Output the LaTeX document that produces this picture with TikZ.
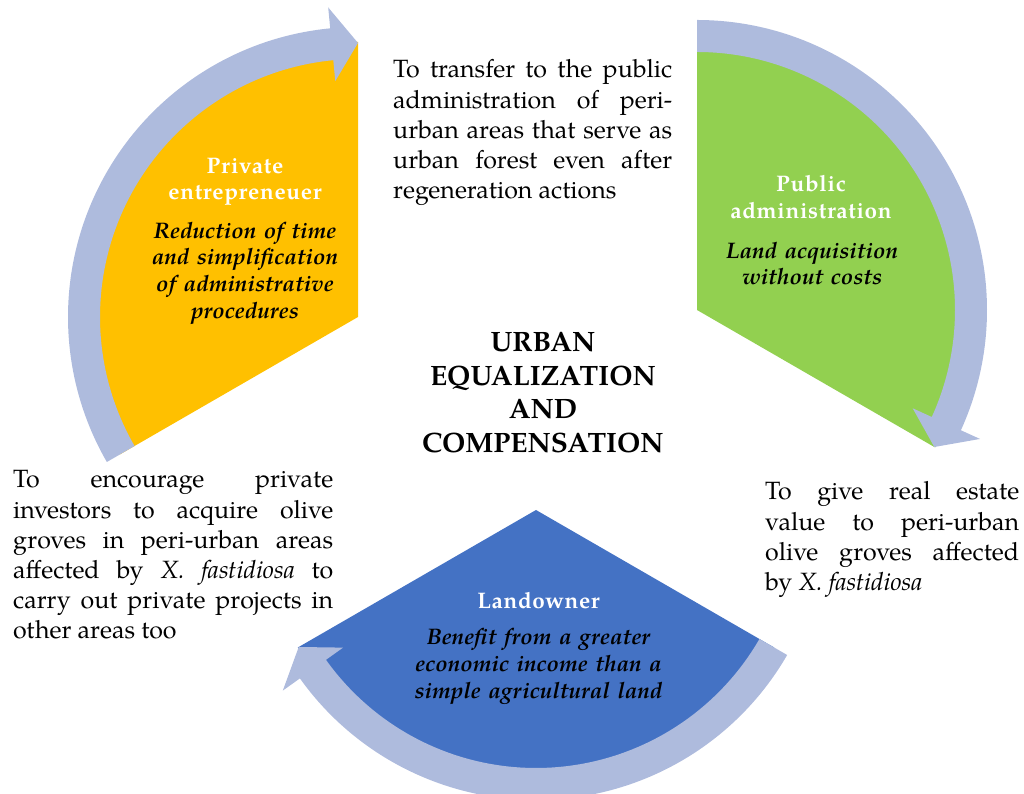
\documentclass[tikz,border=0pt]{standalone}
\usepackage{fontspec}
\setmainfont{texgyrepagella}[Extension=.otf, UprightFont=*-regular, BoldFont=*-bold, ItalicFont=*-italic, BoldItalicFont=*-bolditalic]
\definecolor{wyellow}{HTML}{FFC000}
\definecolor{wgreen}{HTML}{92D050}
\definecolor{wblue}{HTML}{4472C4}
\definecolor{bandc}{HTML}{AEBBDD}
\tolerance=10000
\hbadness=10000
\hfuzz=10pt
\begin{document}
\begin{tikzpicture}[x=1pt,y=1pt,
  body/.style={anchor=base west, inner sep=0pt, align=justify,
    font=\fontsize{25}{30.2}\selectfont},
  ttl/.style={anchor=base, inner sep=0pt, align=center, text width=230pt,
    text=white, font=\fontsize{22.5}{26.7}\selectfont\bfseries\addfontfeature{LetterSpace=3}},
  desc/.style={anchor=base, inner sep=0pt, align=center, text width=270pt,
    font=\fontsize{22.5}{26.7}\selectfont\bfseries\itshape},
  center/.style={anchor=base, inner sep=0pt, align=center, text width=300pt,
    font=\fontsize{28}{33.5}\selectfont\bfseries},
  bandfill/.style={fill=bandc}
]
\useasboundingbox (0,0) rectangle (1024,794);

% apexes of the three wedges
\coordinate (Y) at (358,477);
\coordinate (G) at (697,484);
\coordinate (B) at (536,284);

% wedges
\begin{scope}[shift={(Y)}]
  \fill[wyellow] (0,0) -- (90:275pt) arc[start angle=90, end angle=210, radius=275pt] -- cycle;
\end{scope}
\begin{scope}[shift={(G)}]
  \fill[wgreen] (0,0) -- (90:275pt) arc[start angle=90, end angle=-30, radius=275pt] -- cycle;
\end{scope}
\begin{scope}[shift={(B)}]
  \fill[wblue] (0,0) -- (210:275pt) arc[start angle=210, end angle=330, radius=275pt] -- cycle;
\end{scope}

% circular arrows
\begin{scope}[shift={(Y)}]
  \fill[bandfill] (210:290pt) arc[start angle=210, end angle=95.5, radius=290pt]
    -- (95.5:311pt) -- (90:274pt) -- (95.5:237pt) -- (95.5:258pt)
    arc[start angle=95.5, end angle=210, radius=258pt] -- cycle;
\end{scope}
\begin{scope}[shift={(G)}]
  \fill[bandfill] (90:290pt) arc[start angle=90, end angle=-24.5, radius=290pt]
    -- (-24.5:311pt) -- (-30:274pt) -- (-24.5:237pt) -- (-24.5:258pt)
    arc[start angle=-24.5, end angle=90, radius=258pt] -- cycle;
\end{scope}
\begin{scope}[shift={(B)}]
  \fill[bandfill] (-30:290pt) arc[start angle=-30, end angle=-144.5, radius=290pt]
    -- (-144.5:311pt) -- (-150:274pt) -- (-144.5:237pt) -- (-144.5:258pt)
    arc[start angle=-144.5, end angle=-30, radius=258pt] -- cycle;
\end{scope}

% wedge labels
\node[ttl] (ytitle) at (245,620.7) {Private\\entrepreneuer};
\node[desc] (ydesc) at (245,555.7) {Reduction of time\\and simplification\\of administrative\\procedures};
\node[ttl] (gtitle) at (811,602.3) {Public\\administration};
\node[desc] (gdesc) at (812,535.7) {Land acquisition\\without costs};
\node[ttl] (btitle) at (538.5,185.7) {Landowner};
\node[desc] (bdesc) at (538.5,149) {Benefit from a greater\\economic income than a\\simple agricultural land};

% centre
\node[center] (core) at (543,442) {URBAN\\EQUALIZATION\\AND\\COMPENSATION};

% surrounding texts
\node[body, text width=279pt] (ttext) at (393,716) {To transfer to the public\linebreak administration of peri-\linebreak urban areas that serve as\linebreak urban forest even after\linebreak regeneration actions};
\node[body, text width=320pt] (ltext) at (13,306) {To encourage private\linebreak investors to acquire olive\linebreak groves in peri-urban areas\linebreak affected by \textit{X. fastidiosa} to\linebreak carry out private projects in\linebreak other areas too};
\node[body, text width=254pt] (rtext) at (765,294) {To give real estate\linebreak value to peri-urban\linebreak olive groves affected\linebreak by \textit{X. fastidiosa}};
\end{tikzpicture}
\end{document}
